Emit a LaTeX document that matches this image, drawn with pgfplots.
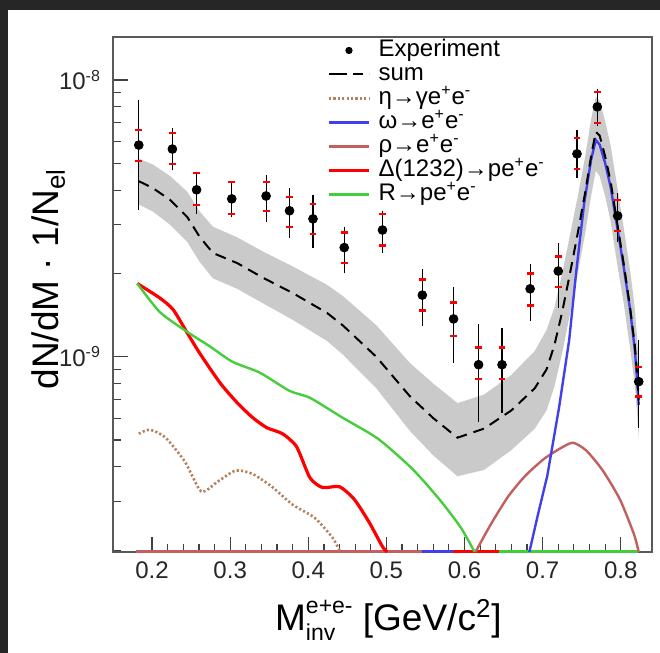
\documentclass[border=0pt]{standalone}
\usepackage{pgfplots}
\pgfplotsset{compat=1.18}
\usepackage{amsmath}
\usepackage{fontspec}
\setmainfont{Liberation Sans}
\definecolor{cDelta}{RGB}{255,0,0}
\definecolor{cR}{RGB}{70,205,60}
\definecolor{cOmega}{RGB}{65,65,235}
\definecolor{cRho}{RGB}{195,95,95}
\definecolor{cEta}{RGB}{180,130,95}
\definecolor{cBand}{RGB}{202,202,202}
\definecolor{cBorder}{RGB}{38,38,38}
\begin{document}
\begin{tikzpicture}
\fill[cBorder] (0,0) rectangle (330pt,326.5pt);
\fill[white] (4pt,0) rectangle (330pt,321.5pt);
\path[use as bounding box] (0,0) rectangle (330pt,326.5pt);
\begin{axis}[
  at={(56.5pt,50.5pt)}, anchor=south west,
  width=269.5pt, height=257.5pt, scale only axis,
  xmin=0.15, xmax=0.84,
  ymode=log, ymin=1.97e-10, ymax=1.43e-8,
  xtick={0.2,0.3,0.4,0.5,0.6,0.7,0.8},
  xticklabels={0.2,0.3,0.4,0.5,0.6,0.7,0.8},
  minor x tick num=4,
  ytick={1e-9,1e-8},
  yticklabels={10\textsuperscript{-9},10\textsuperscript{-8}},
  minor ytick={2e-10,3e-10,4e-10,5e-10,6e-10,7e-10,8e-10,9e-10,2e-9,3e-9,4e-9,5e-9,6e-9,7e-9,8e-9,9e-9},
  tick align=inside, tick pos=left,
  major tick length=7.5pt, minor tick length=4pt,
  every tick/.style={black!75, line width=0.6pt},
  axis line style={black!65, line width=0.6pt},
  ticklabel style={font=\fontsize{12}{14}\selectfont, black!85},
  xticklabel style={yshift=-1.5pt},
  yticklabel style={xshift=-2.5pt},
  xlabel={M\rlap{\raisebox{-5pt}{\fontsize{11.5}{12}\selectfont inv}}\raisebox{8.5pt}{\fontsize{11.5}{12}\selectfont e+e-}\ [GeV/c\textsuperscript{2}]},
  ylabel={dN/dM · 1/N$_{\text{el}}$},
  label style={font=\fontsize{18.5}{20}\selectfont},
  xlabel style={at={(axis description cs:0.511,-0.1515)}, anchor=base},
  ylabel style={at={(axis description cs:-0.102,0.53)}, anchor=base},
  legend style={draw=none, fill=none, at={(rel axis cs:0.397,0.998)}, anchor=north west,
    font=\fontsize{12}{13}\selectfont, row sep=0pt, inner sep=0pt, column sep=4pt,
    nodes={inner sep=0pt, text height=8.8pt, text depth=3.2pt}},
  legend cell align=left,
  legend image code/.code={\draw[#1] (0pt,0pt) -- (20pt,0pt);},
]
% legend images
\addlegendimage{legend image code/.code={\fill[black] (10pt,0pt) circle (1.6pt);}}
\addlegendentry{Experiment}
\addlegendimage{black, line width=1pt, dash pattern=on 9pt off 3pt on 5pt off 3pt}
\addlegendentry{sum}
\addlegendimage{cEta, line width=1.3pt, dash pattern=on 1.1pt off 1.1pt}
\addlegendentry{η→γe\textsuperscript{+}e\textsuperscript{-}}
\addlegendimage{cOmega, line width=1.2pt}
\addlegendentry{ω→e\textsuperscript{+}e\textsuperscript{-}}
\addlegendimage{cRho, line width=1.2pt}
\addlegendentry{ρ→e\textsuperscript{+}e\textsuperscript{-}}
\addlegendimage{cDelta, line width=1.6pt}
\addlegendentry{Δ(1232)→pe\textsuperscript{+}e\textsuperscript{-}}
\addlegendimage{cR, line width=1.2pt}
\addlegendentry{R→pe\textsuperscript{+}e\textsuperscript{-}}

% uncertainty band of the sum (upper edge, then lower edge backwards)
\addplot[fill=cBand, draw=none, forget plot] coordinates {
(0.183,5.2e-9) (0.201,4.95e-9) (0.223,4.5e-9) (0.245,3.95e-9) (0.261,3.35e-9)
(0.278,2.95e-9) (0.309,2.7e-9) (0.342,2.4e-9) (0.380,2.12e-9) (0.424,1.82e-9)
(0.444,1.66e-9) (0.487,1.3e-9) (0.530,9.5e-10) (0.560,8.0e-10) (0.591,6.8e-10)
(0.625,7.3e-10) (0.660,8.6e-10) (0.690,1.05e-9) (0.705,1.25e-9) (0.715,1.5e-9)
(0.725,2.0e-9) (0.735,2.75e-9) (0.745,3.8e-9) (0.755,5.4e-9) (0.762,7.2e-9)
(0.768,8.7e-9) (0.773,8.4e-9) (0.780,7.1e-9) (0.787,5.8e-9) (0.795,4.2e-9)
(0.804,2.9e-9) (0.812,2.05e-9) (0.818,1.5e-9) (0.821,1.17e-9) (0.823,9.5e-10)
(0.823,5.0e-10) (0.821,6.2e-10) (0.818,7.9e-10) (0.812,1.07e-9) (0.804,1.55e-9)
(0.795,2.2e-9) (0.787,3.1e-9) (0.780,3.8e-9) (0.773,4.5e-9) (0.768,4.7e-9)
(0.762,3.8e-9) (0.755,2.85e-9) (0.745,2.0e-9) (0.735,1.43e-9) (0.725,1.03e-9)
(0.715,7.8e-10) (0.705,6.4e-10) (0.690,5.5e-10) (0.660,4.6e-10) (0.625,3.9e-10)
(0.591,3.7e-10) (0.560,4.4e-10) (0.530,5.4e-10) (0.487,7.7e-10) (0.444,1.02e-9)
(0.424,1.14e-9) (0.380,1.36e-9) (0.342,1.56e-9) (0.309,1.76e-9) (0.278,1.92e-9)
(0.261,2.2e-9) (0.245,2.6e-9) (0.223,3.0e-9) (0.201,3.35e-9) (0.183,3.55e-9)
};

% zero-valued parts of the components along the lower edge
\addplot[cRho, line width=2pt, forget plot] coordinates {(0.180,1.97e-10) (0.546,1.97e-10)};
\addplot[cOmega, line width=2pt, forget plot] coordinates {(0.546,1.97e-10) (0.585,1.97e-10)};
\addplot[cDelta, line width=2pt, forget plot] coordinates {(0.585,1.97e-10) (0.644,1.97e-10)};
\addplot[cR, line width=2pt, forget plot] coordinates {(0.644,1.97e-10) (0.822,1.97e-10)};

% eta -> gamma e+e-
\addplot[cEta, line width=1.3pt, dash pattern=on 1.1pt off 1.1pt, smooth, tension=0.4, forget plot] coordinates {
(0.183,5.27e-10) (0.197,5.45e-10) (0.217,5.11e-10) (0.242,4.18e-10) (0.263,3.26e-10)
(0.284,3.54e-10) (0.307,3.88e-10) (0.328,3.78e-10) (0.353,3.40e-10) (0.380,2.92e-10)
(0.408,2.62e-10) (0.431,2.22e-10) (0.441,1.97e-10)
};
% rho -> e+e-
\addplot[cRho, line width=1.2pt, smooth, tension=0.4, forget plot] coordinates {
(0.614,1.97e-10) (0.634,2.49e-10) (0.656,3.13e-10) (0.678,3.72e-10) (0.702,4.28e-10)
(0.724,4.69e-10) (0.739,4.89e-10) (0.756,4.58e-10) (0.777,3.88e-10) (0.799,3.05e-10)
(0.817,2.28e-10) (0.823,1.97e-10)
};
% Delta(1232) -> p e+e-
\addplot[cDelta, line width=1.6pt, smooth, tension=0.4, forget plot] coordinates {
(0.181,1.84e-9) (0.210,1.63e-9) (0.227,1.48e-9) (0.245,1.22e-9) (0.261,1.03e-9)
(0.287,8.05e-10) (0.309,6.82e-10) (0.329,6.02e-10) (0.347,5.54e-10) (0.367,5.27e-10)
(0.385,4.73e-10) (0.402,3.66e-10) (0.418,3.37e-10) (0.440,3.39e-10) (0.459,3.05e-10)
(0.478,2.52e-10) (0.495,2.06e-10) (0.501,1.97e-10)
};
% R -> p e+e-
\addplot[cR, line width=1.2pt, smooth, tension=0.4, forget plot] coordinates {
(0.181,1.84e-9) (0.210,1.45e-9) (0.245,1.23e-9) (0.274,1.09e-9) (0.303,9.59e-10)
(0.338,8.76e-10) (0.376,7.53e-10) (0.402,7.11e-10) (0.444,6.02e-10) (0.489,5.06e-10)
(0.533,3.94e-10) (0.568,3.05e-10) (0.595,2.42e-10) (0.613,1.97e-10)
};
% omega -> e+e-
\addplot[cOmega, line width=1.2pt, forget plot] coordinates {
(0.683,1.97e-10) (0.694,2.69e-10) (0.706,3.72e-10) (0.721,6.55e-10) (0.734,1.15e-9)
(0.743,2.03e-9) (0.753,3.56e-9) (0.762,5.14e-9) (0.768,6.07e-9) (0.773,5.84e-9)
(0.780,5.01e-9) (0.787,4.11e-9) (0.795,3.0e-9) (0.804,2.09e-9) (0.812,1.48e-9)
(0.818,1.06e-9) (0.821,8.26e-10) (0.823,6.7e-10)
};
% sum
\addplot[black, line width=1pt, dash pattern=on 5.5pt off 3.5pt, forget plot] coordinates {
(0.183,4.31e-9) (0.201,4.07e-9) (0.223,3.69e-9) (0.245,3.20e-9) (0.261,2.71e-9)
(0.278,2.37e-9) (0.309,2.18e-9) (0.342,1.93e-9) (0.380,1.70e-9) (0.424,1.44e-9)
(0.444,1.30e-9) (0.487,1.00e-9) (0.530,7.2e-10) (0.560,6.0e-10) (0.591,5.1e-10)
(0.625,5.5e-10) (0.660,6.4e-10) (0.690,7.7e-10) (0.705,9.0e-10) (0.715,1.1e-9)
(0.725,1.45e-9) (0.735,2.0e-9) (0.745,2.8e-9) (0.755,4.0e-9) (0.762,5.3e-9)
(0.768,6.5e-9) (0.773,6.3e-9) (0.780,5.3e-9) (0.787,4.3e-9) (0.795,3.1e-9)
(0.804,2.15e-9) (0.812,1.5e-9) (0.818,1.1e-9) (0.821,8.6e-10) (0.823,7.0e-10)
};

% systematic uncertainty limits of the data (red marks)
\addplot[only marks, mark=-, mark size=1.7pt, color=red, mark options={line width=1.2pt}, forget plot] coordinates {
(0.183,6.60e-9) (0.183,5.11e-9) (0.226,6.44e-9) (0.226,4.98e-9)
(0.257,4.61e-9) (0.257,3.54e-9) (0.302,4.28e-9) (0.302,3.28e-9)
(0.346,4.28e-9) (0.346,3.37e-9) (0.376,3.78e-9) (0.376,2.94e-9)
(0.406,3.57e-9) (0.406,2.78e-9) (0.446,2.81e-9) (0.446,2.18e-9)
(0.495,3.28e-9) (0.495,2.52e-9) (0.546,1.90e-9) (0.546,1.47e-9)
(0.586,1.57e-9) (0.586,1.19e-9) (0.618,1.08e-9) (0.618,8.33e-10)
(0.648,1.08e-9) (0.648,8.33e-10) (0.684,2.00e-9) (0.684,1.53e-9)
(0.720,2.30e-9) (0.720,1.79e-9) (0.744,6.18e-9) (0.744,4.77e-9)
(0.770,9.06e-9) (0.770,7.00e-9) (0.796,3.69e-9) (0.796,2.85e-9)
(0.823,9.20e-10) (0.823,7.18e-10)
};

% experimental points with statistical error bars
\addplot[only marks, mark=*, mark size=2.2pt, color=black, forget plot,
  error bars/.cd, y dir=both, y explicit,
  error bar style={line width=0.6pt, black}, error mark=none]
  table[x=x, y=y, y error plus=ep, y error minus=em] {
x y ep em
0.183 5.82e-9 2.65e-9 2.42e-9
0.226 5.63e-9 1.09e-9 0.90e-9
0.257 4.01e-9 0.64e-9 0.73e-9
0.302 3.72e-9 0.56e-9 0.52e-9
0.346 3.81e-9 0.73e-9 0.74e-9
0.376 3.37e-9 0.70e-9 0.68e-9
0.406 3.15e-9 0.70e-9 0.67e-9
0.446 2.48e-9 0.46e-9 0.48e-9
0.495 2.87e-9 0.50e-9 0.50e-9
0.546 1.67e-9 0.41e-9 0.38e-9
0.586 1.37e-9 0.42e-9 0.42e-9
0.618 9.36e-10 3.74e-10 3.54e-10
0.648 9.36e-10 3.34e-10 3.08e-10
0.684 1.76e-9 0.41e-9 0.41e-9
0.720 2.04e-9 0.54e-9 0.54e-9
0.744 5.41e-9 1.19e-9 0.98e-9
0.770 8.00e-9 1.30e-9 1.20e-9
0.796 3.23e-9 0.67e-9 0.63e-9
0.823 8.13e-10 3.37e-10 2.59e-10
};
\end{axis}
\end{tikzpicture}
\end{document}
